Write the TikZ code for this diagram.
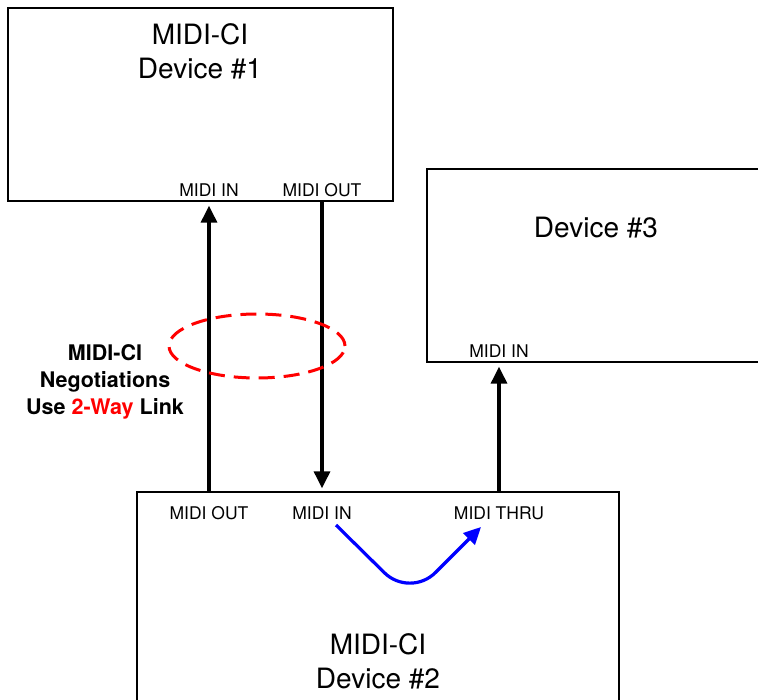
\documentclass[tikz,border=0pt]{standalone}
\usepackage{fontspec}
\setmainfont{TeX Gyre Heros}
\usetikzlibrary{arrows.meta,shapes.geometric}

\begin{document}
\begin{tikzpicture}[x=1pt, y=-1pt,
  devbox/.style={draw, line width=1.3pt, inner sep=0pt},
  title/.style={align=center, font=\fontsize{28}{34}\selectfont},
  port/.style={font=\fontsize{17.5}{18}\selectfont, inner sep=0pt},
  link/.style={line width=3.2pt, -{Triangle[length=17pt,width=16pt]}, shorten >=4pt},
  thru/.style={blue, line width=3.2pt, -{Triangle[length=17pt,width=16pt]}, rounded corners=36pt}]

\useasboundingbox (0,0) rectangle (758,700);

% ================= DEVICE #1 =================
\node[devbox, minimum width=385pt, minimum height=193pt] (dev1) at (200.5,104.5) {};
\node[title] (title1) at (200,51) {MIDI-CI\\Device \#1};
\node[port] (in1) at (209,190) {MIDI IN};
\node[port] (out1) at (322,190) {MIDI OUT};

% ================= DEVICE #3 =================
\node[devbox, minimum width=343pt, minimum height=193pt] (dev3) at (598.5,265.5) {};
\node[title] (title3) at (596,228) {Device \#3};
\node[port] (in3) at (499,351) {MIDI IN};

% ================= DEVICE #2 =================
\node[devbox, minimum width=482pt, minimum height=220pt] (dev2) at (378,602) {};
\node[title] (title2) at (378,661) {MIDI-CI\\Device \#2};
\node[port] (out2) at (209,513) {MIDI OUT};
\node[port] (in2) at (322,513) {MIDI IN};
\node[port] (thru2) at (499,513) {MIDI THRU};

% Cables
\draw[link] (out2 |- dev2.north) -- (in1 |- dev1.south);
\draw[link, shorten >=3pt] (out1 |- dev1.south) -- (in2 |- dev2.north);
\draw[link] (thru2 |- dev2.north) -- (in3 |- dev3.south);

% Thru path inside device #2
\coordinate (thruA) at (336,525);
\coordinate (thruB) at (410,598);
\coordinate (thruC) at (481,527);
\draw[thru] (thruA) -- (thruB) -- (thruC);

% ================= 2-WAY LINK NOTE =================
\node[draw=red, line width=3pt, dash pattern=on 16pt off 9pt, ellipse,
  minimum width=176pt, minimum height=64pt] (ring) at (257,346) {};
\node[align=center, font=\bfseries\fontsize{21.5}{27}\selectfont] (note) at (105,382)
  {MIDI-CI\\Negotiations\\Use \textcolor{red}{2-Way} Link};

\end{tikzpicture}
\end{document}
